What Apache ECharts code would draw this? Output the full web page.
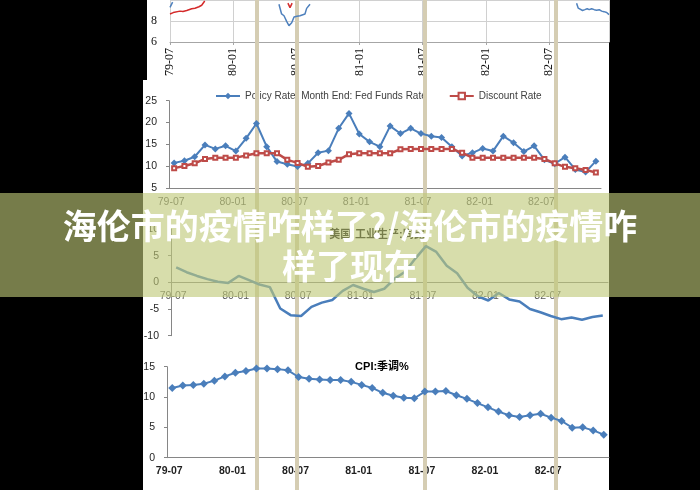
<!DOCTYPE html>
<html><head><meta charset="utf-8">
<script src="https://cdn.jsdelivr.net/npm/echarts@6/dist/echarts.min.js"></script>
<style>html,body{margin:0;padding:0;background:#000;}#c{width:700px;height:490px;}</style>
</head><body><div id="c"></div>
<script>
// ---------- data ----------
const months = ['79-07','79-08','79-09','79-10','79-11','79-12','80-01','80-02','80-03','80-04','80-05','80-06',
  '80-07','80-08','80-09','80-10','80-11','80-12','81-01','81-02','81-03','81-04','81-05','81-06',
  '81-07','81-08','81-09','81-10','81-11','81-12','82-01','82-02','82-03','82-04','82-05','82-06',
  '82-07','82-08','82-09','82-10','82-11','82-12'];
// top (clipped) panel: [month index, value]
const topBlueA = [[0,9.3],[0.25,9.8]];
const topBlueB = [[10.35,9.6],[10.6,8.67],[10.83,8.5],[11.08,7.97],[11.3,7.56],[11.56,7.83],[11.78,8.39],[12.06,8.45],[12.35,8.5],[12.82,8.67],[12.98,9.2],[13.3,9.6]];
const topBlueC = [[38.62,9.7],[38.78,9.22],[38.94,9.03],[39.19,9.0],[39.41,9.08],[39.63,9.17],[39.82,9.08],[40.05,9.17],[40.3,9.08],[40.52,9.03],[40.77,9.08],[41.0,8.94],[41.22,8.89],[41.48,8.81],[41.7,8.61]];
const topRedA = [[0,8.67],[0.31,8.8],[0.95,8.94],[1.23,8.9],[1.59,9.0],[2.06,9.17],[2.37,9.22],[2.53,9.17],[2.75,9.36],[3.01,9.5],[3.3,9.9]];
const topRedB = [[11.2,9.7],[11.4,9.28],[11.6,9.7]];
const fedFunds = [10.8,11.3,12.2,14.9,14.0,14.7,13.5,16.4,19.8,14.5,11.1,10.5,10.0,10.7,13.1,13.6,18.7,22.1,17.4,15.6,14.5,19.2,17.5,18.7,17.5,16.9,16.6,14.5,12.4,13.1,14.1,13.5,16.9,15.4,13.4,14.7,11.5,10.6,12.1,9.3,8.7,11.2];
const discountRate = [9.6,10.1,10.7,11.7,12,12,12,12.5,13,13,13,11.5,10.8,9.9,10.1,10.9,11.5,12.8,13,13,13,13,13.9,14,14,14,14,14,13.1,12,12,12,12,12,12,12,11.7,10.7,9.9,9.6,9.2,8.6];
const ipYoY = [2.8,1.9,1.2,0.6,0.1,-0.1,1.2,0.4,-0.4,-0.9,-4.9,-6.15,-6.3,-4.6,-3.8,-3.3,-1.6,-0.5,-1.2,-1.8,-1.2,0.7,2.0,4.5,6.8,5.7,3.1,1.7,-1.0,-2.6,-3.4,-2.0,-3.2,-3.6,-5.0,-5.6,-6.3,-6.9,-6.6,-7.0,-6.5,-6.2];
const cpi = [11.5,11.9,12.0,12.2,12.7,13.4,14.0,14.3,14.7,14.7,14.6,14.4,13.3,13.0,12.9,12.8,12.8,12.5,12.0,11.5,10.7,10.2,9.9,9.8,10.9,10.9,11.0,10.3,9.7,9.0,8.3,7.6,7.0,6.7,7.0,7.25,6.6,6.05,4.95,5.0,4.5,3.8];
const shadeMarks = [8, 11.8, 24, 36.4];
const legendNames = ['Policy Rate: Month End: Fed Funds Rate', 'Discount Rate'];
const titleIP = '美国:工业生产:同比';
const titleCPI = 'CPI:季调%';
const bannerLines = ['海伦市的疫情咋样了?/海伦市的疫情咋', '样了现在'];

// ---------- chart ----------
const joinSeg = (...segs) => { const out = []; segs.forEach((s, i) => { if (i) out.push([s[0][0] - 0.01, '-']); s.forEach(p => out.push(p)); }); return out; };
const SANS = 'Liberation Sans, Arial, sans-serif';
const axisGray = '#868686';
const blue = '#4a7ebb', red = '#be4b48';

function catX(grid, opts, labelOpts) {
  return Object.assign({
    type: 'category', gridIndex: grid, data: months, boundaryGap: true,
    axisLine: { onZero: false, lineStyle: { color: axisGray } },
    axisTick: { interval: 5, length: 3, lineStyle: { color: axisGray } },
    axisLabel: Object.assign({ interval: 5, fontSize: 10.5, fontFamily: SANS, color: '#595959', margin: 8, padding: [0, 6, 0, 0] }, labelOpts || {}),
    splitLine: { show: false }
  }, opts || {});
}
function valY(grid, min, max, interval) {
  return {
    type: 'value', gridIndex: grid, min, max, interval,
    axisLine: { show: true, lineStyle: { color: axisGray } },
    axisTick: { show: true, length: 3, lineStyle: { color: axisGray } },
    axisLabel: { fontSize: 10.5, fontFamily: SANS, color: '#262626', margin: 12 },
    splitLine: { show: false }
  };
}

const chart = echarts.init(document.getElementById('c'), null, { renderer: 'canvas' });
chart.setOption({
  backgroundColor: '#000',
  animation: false,
  grid: [
    { left: 170, top: -6, width: 439, height: 48 },
    { left: 169, top: 100.7, width: 432, height: 87.6 },
    { left: 171, top: 229, width: 437, height: 106.7 },
    { left: 167, top: 366.7, width: 442, height: 91 },
    { left: 167, top: 0, width: 442, height: 490 }
  ],
  xAxis: [
    { type: 'value', gridIndex: 0, min: 0, max: 41.7, interval: 6,
      axisLine: { lineStyle: { color: '#a6a6a6' } },
      axisTick: { length: 3, lineStyle: { color: '#a6a6a6' } },
      axisLabel: { rotate: 90, margin: 6, fontSize: 12, fontFamily: 'Liberation Serif, serif', color: '#111', showMaxLabel: false,
        formatter: v => months[v] || '' },
      splitLine: { show: true, lineStyle: { color: '#d0d0d0' } } },
    catX(1),
    catX(2, { offset: -53.4 }),
    catX(3, {}, { color: '#1f1f1f', fontWeight: 'bold' }),
    { type: 'value', gridIndex: 4, min: -0.5, max: 41.5, show: false }
  ],
  yAxis: [
    { type: 'value', gridIndex: 0, min: 6, max: 10, interval: 2,
      axisLine: { show: false }, axisTick: { show: false },
      axisLabel: { fontSize: 12, fontFamily: 'Liberation Serif, serif', color: '#111', margin: 13, showMaxLabel: false },
      splitLine: { show: true, lineStyle: { color: '#d0d0d0' } } },
    valY(1, 5, 25, 5),
    valY(2, -10, 10, 5),
    valY(3, 0, 15, 5),
    { type: 'value', gridIndex: 4, min: 0, max: 1, show: false }
  ],
  title: [
    { text: titleIP, left: 372, top: 224, textAlign: 'center',
      textStyle: { fontSize: 11, fontWeight: 'bold', color: '#000', fontFamily: 'Liberation Sans, Noto Sans CJK SC' } },
    { text: titleCPI, left: 377, top: 356, textAlign: 'center',
      textStyle: { fontSize: 11, fontWeight: 'bold', color: '#000', fontFamily: 'Liberation Sans, Noto Sans CJK SC' } }
  ],
  legend: {
    data: legendNames, left: 210, top: 86, itemWidth: 24, itemHeight: 8, itemGap: 22,
    textStyle: { fontSize: 10, fontFamily: SANS, color: '#404040' }
  },
  series: [
    { type: 'line', xAxisIndex: 4, yAxisIndex: 4, data: [[-0.5, 0]], showSymbol: false, silent: true, z: 1,
      lineStyle: { opacity: 0 },
      markLine: { silent: true, symbol: ['none', 'none'], label: { show: false },
        lineStyle: { color: '#d5cdb3', width: 4, type: 'solid', opacity: 1 },
        data: shadeMarks.map(v => ({ xAxis: v })) } },
    { type: 'line', xAxisIndex: 0, yAxisIndex: 0, data: joinSeg(topBlueA, topBlueB, topBlueC), showSymbol: false, symbol: 'none',
      connectNulls: false, lineStyle: { color: '#4f81bd', width: 1.5 }, itemStyle: { color: '#4f81bd' }, z: 5 },
    { type: 'line', xAxisIndex: 0, yAxisIndex: 0, data: joinSeg(topRedA, topRedB), showSymbol: false, symbol: 'none',
      connectNulls: false, lineStyle: { color: '#d42a2a', width: 1.5 }, itemStyle: { color: '#d42a2a' }, z: 5 },
    { name: legendNames[0], type: 'line', xAxisIndex: 1, yAxisIndex: 1, data: fedFunds, showAllSymbol: true,
      symbol: 'diamond', symbolSize: 7, lineStyle: { color: blue, width: 2 }, itemStyle: { color: blue }, z: 5 },
    { name: legendNames[1], type: 'line', xAxisIndex: 1, yAxisIndex: 1, data: discountRate, showAllSymbol: true,
      symbol: 'emptyRect', symbolSize: 4, lineStyle: { color: red, width: 2.5 }, itemStyle: { color: red, borderWidth: 1 }, z: 5 },
    { type: 'line', xAxisIndex: 2, yAxisIndex: 2, data: ipYoY, showSymbol: false, symbol: 'none',
      lineStyle: { color: blue, width: 2.5 }, itemStyle: { color: blue }, z: 5 },
    { type: 'line', xAxisIndex: 3, yAxisIndex: 3, data: cpi, showAllSymbol: true,
      symbol: 'diamond', symbolSize: 8, lineStyle: { color: blue, width: 2 }, itemStyle: { color: blue }, z: 5 }
  ],
  graphic: [
    { type: 'rect', z: -10, silent: true, shape: { x: 147, y: 0, width: 462, height: 80 }, style: { fill: '#fff' } },
    { type: 'rect', z: -10, silent: true, shape: { x: 143, y: 80, width: 466, height: 410 }, style: { fill: '#fff' } },
    { type: 'rect', z: 100, silent: true, shape: { x: 0, y: 193, width: 700, height: 104 }, style: { fill: 'rgba(190,200,120,0.62)' } },
    { type: 'text', z: 101, silent: true, x: 350, y: 226,
      style: { text: bannerLines[0], fill: '#fff', font: 'bold 34px "Noto Sans CJK SC"', textAlign: 'center', textVerticalAlign: 'middle',
        shadowColor: 'rgba(0,0,0,0.45)', shadowBlur: 4, shadowOffsetX: 1, shadowOffsetY: 1 } },
    { type: 'text', z: 101, silent: true, x: 350, y: 266,
      style: { text: bannerLines[1], fill: '#fff', font: 'bold 34px "Noto Sans CJK SC"', textAlign: 'center', textVerticalAlign: 'middle',
        shadowColor: 'rgba(0,0,0,0.45)', shadowBlur: 4, shadowOffsetX: 1, shadowOffsetY: 1 } }
  ]
});
</script></body></html>
